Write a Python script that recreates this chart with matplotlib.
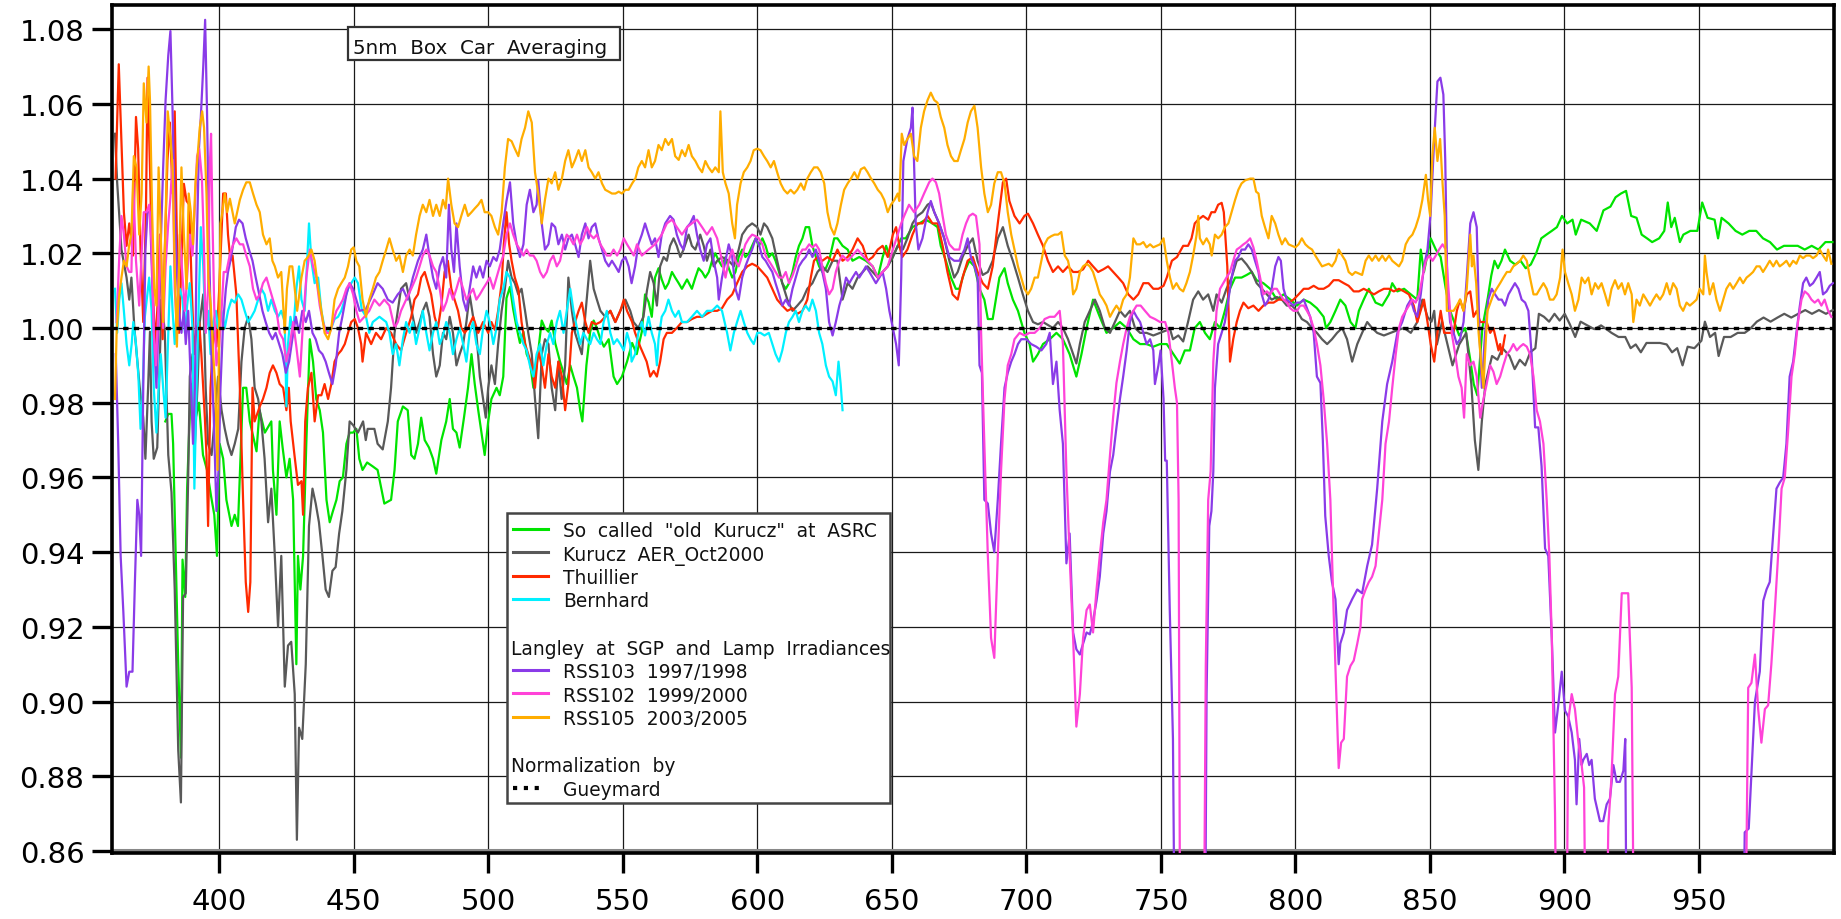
import matplotlib
matplotlib.use("Agg")
import matplotlib.pyplot as plt
import numpy as np
from matplotlib.patches import Rectangle
from matplotlib.lines import Line2D

# ---------------- data (wavelength nm, ratio to Gueymard) ----------------
green_x = [380.0,381.1,382.3,382.9,384.8,385.8,386.4,387.4,388.1,389.5,391.0,392.5,394.0,395.5,397.0,398.2,399.2,400.2,401.5,402.7,404.6,405.8,407.0,408.9,410.1,411.4,413.9,415.0,417.0,419.4,420.0,421.3,422.5,423.6,425.0,426.2,427.5,428.7,429.3,430.2,431.2,432.4,433.7,434.9,436.1,437.4,438.6,439.9,441.1,442.3,443.6,444.8,446.0,447.3,448.5,449.8,451.0,452.1,453.3,455.0,457.0,458.9,461.4,463.9,465.2,466.4,468.3,470.1,471.4,472.6,473.9,475.1,476.4,478.0,479.5,480.7,482.6,484.4,485.7,486.9,488.2,489.4,491.0,492.5,493.8,495.0,496.3,497.5,498.7,500.0,501.2,503.1,504.3,505.6,506.8,508.1,509.3,510.6,511.8,513.1,514.3,515.5,516.8,518.0,519.9,521.1,522.4,523.6,524.9,526.7,528.0,529.2,530.5,531.7,533.0,534.2,535.0,536.5,537.9,539.2,540.4,541.7,543.0,544.8,546.6,547.9,549.7,551.6,553.5,555.2,557.1,558.3,559.6,560.8,562.0,563.3,564.5,565.8,567.0,568.3,569.5,570.8,572.0,573.9,575.7,577.0,578.2,579.5,580.7,582.0,583.2,584.4,585.7,586.9,588.2,589.4,590.7,591.9,593.1,594.4,595.6,596.9,598.1,599.4,600.6,601.9,603.1,604.3,605.6,606.8,608.1,609.3,610.6,611.8,613.1,614.3,615.5,616.8,618.0,619.3,620.5,621.8,623.0,624.2,625.5,626.7,628.6,629.8,631.7,633.6,635.4,637.9,640.4,642.9,644.8,646.6,647.9,649.7,651.6,653.5,655.2,657.7,660.2,662.6,665.1,667.0,668.2,670.1,672.0,673.8,675.1,677.0,678.8,680.7,682.6,684.4,685.7,687.5,690.0,691.9,693.1,695.0,696.9,699.3,701.2,702.5,704.3,706.2,708.7,711.2,713.6,716.1,718.6,720.5,722.4,724.8,727.3,729.8,732.3,734.8,737.3,739.8,742.3,744.7,747.2,749.7,752.2,754.7,757.0,758.9,760.8,762.6,764.5,766.4,768.2,770.1,772.0,773.8,775.7,777.6,780.0,781.9,783.8,785.6,788.1,790.6,793.1,795.6,798.1,800.6,803.1,805.5,808.0,810.5,811.4,813.0,814.9,816.7,818.6,820.5,822.3,823.6,825.4,827.3,829.8,832.3,834.8,836.0,837.9,840.4,842.9,845.3,846.6,847.8,850.3,852.2,854.0,855.9,857.5,860.9,863.1,865.0,866.3,867.6,869.5,871.5,872.8,874.0,875.3,876.6,877.9,879.8,881.7,883.7,885.6,887.5,889.5,891.4,893.3,895.3,897.2,899.1,901.0,903.0,904.2,906.2,909.4,912.0,914.5,917.1,919.0,921.0,922.9,924.8,926.8,928.7,930.7,932.6,935.2,937.1,938.4,939.7,941.0,942.9,944.2,946.8,949.4,951.2,953.2,955.8,957.1,958.4,961.0,963.6,966.1,968.7,971.3,973.8,976.4,979.0,981.6,984.1,986.7,989.3,991.9,994.4,997.0,999.6]
green_y = [0.975,0.977,0.977,0.969,0.910,0.885,0.938,0.928,0.957,0.985,0.975,0.980,0.966,0.962,0.955,0.950,0.939,0.969,0.965,0.954,0.947,0.950,0.947,0.984,0.984,0.975,0.967,0.978,0.972,0.975,0.962,0.950,0.975,0.968,0.960,0.965,0.954,0.910,0.939,0.930,0.939,0.969,0.997,0.991,0.981,0.978,0.972,0.954,0.948,0.951,0.954,0.959,0.960,0.969,0.972,0.972,0.973,0.965,0.962,0.964,0.963,0.962,0.953,0.954,0.962,0.975,0.979,0.978,0.966,0.965,0.969,0.976,0.970,0.968,0.965,0.961,0.970,0.975,0.981,0.973,0.972,0.968,0.976,0.984,0.993,0.985,0.978,0.972,0.966,0.975,0.981,0.984,0.982,0.987,1.008,1.011,1.005,1.000,0.996,0.999,0.993,0.991,0.984,0.990,1.002,1.000,0.999,1.002,0.996,0.991,0.988,0.985,0.990,0.987,0.984,0.978,0.975,0.990,0.999,1.002,1.000,0.997,0.995,0.997,0.987,0.985,0.987,0.991,0.996,0.993,0.999,1.009,1.007,1.003,1.0135,1.016,1.013,1.0105,1.012,1.015,1.0135,1.012,1.0105,1.013,1.0105,1.0135,1.016,1.015,1.0135,1.015,1.018,1.020,1.018,1.0165,1.019,1.016,1.0135,1.015,1.019,1.021,1.019,1.020,1.022,1.024,1.022,1.024,1.022,1.019,1.020,1.018,1.015,1.012,1.0105,1.012,1.015,1.019,1.022,1.024,1.027,1.027,1.022,1.019,1.0165,1.015,1.016,1.018,1.024,1.024,1.022,1.021,1.018,1.019,1.018,1.0165,1.0135,1.019,1.022,1.018,1.021,1.024,1.024,1.027,1.028,1.029,1.028,1.027,1.022,1.018,1.0135,1.0105,1.0105,1.015,1.018,1.0165,1.0105,1.0076,1.0024,1.0024,1.0135,1.016,1.012,1.0076,1.0046,0.9987,0.9957,0.991,0.993,0.9957,0.997,0.9987,0.997,0.993,0.987,0.993,1.000,1.0076,1.003,0.9987,1.000,1.0016,1.000,0.997,0.9957,0.9957,0.995,0.9957,0.9957,0.993,0.9905,0.994,0.994,1.000,1.0016,0.9987,0.997,1.0016,1.000,1.0046,1.0105,1.0135,1.0135,1.0142,1.015,1.0128,1.012,1.0105,1.0076,1.009,1.0076,1.006,1.0076,1.0068,1.0053,1.003,1.000,1.0016,1.0046,1.0076,1.006,1.0016,1.000,1.0046,1.0076,1.0105,1.0068,1.006,1.009,1.012,1.0098,1.0105,1.009,1.0076,1.021,1.015,1.024,1.021,1.019,1.0105,1.0046,0.998,1.000,0.9915,0.985,0.982,1.000,1.008,1.014,1.018,1.016,1.018,1.021,1.018,1.017,1.018,1.016,1.017,1.020,1.024,1.025,1.026,1.027,1.030,1.028,1.029,1.025,1.029,1.028,1.026,1.0315,1.0325,1.035,1.036,1.0367,1.030,1.0295,1.025,1.024,1.023,1.024,1.026,1.0336,1.027,1.0295,1.023,1.025,1.026,1.026,1.0336,1.0295,1.029,1.024,1.0295,1.028,1.026,1.025,1.026,1.026,1.024,1.023,1.021,1.022,1.022,1.022,1.021,1.022,1.021,1.023,1.023]

gray_x = [361.3,362.1,363.7,365.6,366.6,367.4,368.5,370.5,371.8,372.6,373.6,374.3,374.9,375.7,377.0,378.6,379.8,381.1,382.3,383.5,384.8,385.8,386.6,387.6,388.5,389.1,390.1,391.0,392.0,392.8,394.1,395.0,395.9,397.2,398.4,399.6,400.9,402.1,403.3,404.6,405.8,407.1,408.3,409.5,410.8,412.0,413.2,414.5,415.7,416.9,418.2,419.4,420.7,421.9,423.1,424.4,425.6,426.8,428.1,428.9,429.7,430.9,432.2,433.4,434.7,435.9,437.1,438.4,439.6,440.8,442.1,443.3,444.6,445.8,447.3,448.5,449.8,451.6,453.5,454.5,455.2,457.7,458.9,460.8,462.7,463.9,465.2,466.4,467.6,469.5,470.8,472.0,473.2,474.5,475.7,477.0,478.2,479.5,480.7,482.0,483.2,484.4,485.7,486.9,488.2,489.4,490.7,491.9,493.1,494.4,495.6,496.9,498.1,499.1,500.0,501.2,502.5,503.7,505.0,506.2,507.4,508.7,509.9,511.2,512.4,513.7,514.9,516.2,517.4,518.6,519.9,521.1,522.4,523.6,524.9,526.1,527.3,528.6,529.8,531.1,532.3,533.6,534.8,536.3,537.9,539.2,540.4,541.7,543.5,545.4,547.2,549.1,551.0,552.8,554.0,555.8,557.7,559.0,560.2,561.5,562.7,563.9,565.2,566.4,567.6,568.9,570.1,571.4,572.6,574.5,575.7,577.0,578.8,580.1,581.3,582.6,583.8,585.1,586.9,589.4,591.3,593.1,594.4,596.3,598.1,600.0,601.2,602.5,603.7,605.6,607.4,609.3,611.2,613.1,614.9,616.8,618.6,620.5,622.4,624.2,626.1,628.0,629.8,631.7,633.6,635.4,637.3,639.2,641.0,642.9,644.8,646.6,648.5,650.4,652.2,654.1,655.8,657.7,659.5,661.4,663.3,664.5,665.8,667.6,669.5,671.4,673.2,674.5,676.3,678.2,680.1,681.9,683.8,685.7,687.5,689.4,691.3,693.1,695.0,696.9,698.7,700.6,702.5,704.3,706.2,709.9,711.8,713.6,715.5,717.4,718.6,719.9,721.7,723.6,725.5,727.3,729.2,731.1,732.9,734.8,736.7,738.5,740.4,742.3,744.7,747.2,749.7,752.2,753.3,754.5,756.5,758.3,760.1,762.0,763.9,765.7,767.6,769.5,770.7,772.6,774.4,776.3,778.2,780.0,781.9,783.8,785.6,787.5,789.4,791.2,793.1,795.0,796.8,798.7,800.6,802.4,804.3,806.2,808.0,809.9,811.8,813.6,815.5,817.4,819.2,821.1,823.0,824.8,826.7,828.5,830.4,832.9,835.4,837.9,840.4,842.9,845.3,847.2,849.1,850.6,851.6,852.6,854.5,856.5,858.4,860.9,863.5,865.4,866.7,868.0,869.3,870.6,871.9,873.1,875.1,877.0,879.6,881.5,883.4,885.4,887.3,889.2,890.5,892.4,894.3,896.3,898.2,900.1,902.0,904.0,906.0,908.5,911.1,913.6,915.6,917.5,920.1,922.6,924.6,926.5,928.4,930.5,932.9,935.5,938.0,940.0,941.9,943.9,945.8,948.3,950.9,952.2,954.1,956.0,957.3,959.3,961.8,964.4,967.0,968.9,971.5,974.0,976.6,979.2,981.7,984.3,986.9,989.5,992.0,994.6,997.2,999.7]
gray_y = [1.052,1.039,1.021,1.0135,1.0076,1.0135,1.000,0.984,0.976,0.965,0.984,0.999,0.975,0.965,0.968,1.0076,0.999,0.966,0.956,0.930,0.887,0.873,0.928,0.929,0.960,0.987,0.993,0.969,0.985,1.0016,1.009,0.984,0.969,0.966,0.976,0.987,0.978,0.973,0.969,0.966,0.969,0.973,0.991,1.000,1.003,0.997,0.984,0.981,0.975,0.965,0.948,0.957,0.939,0.920,0.939,0.904,0.915,0.916,0.902,0.863,0.893,0.890,0.910,0.947,0.957,0.953,0.948,0.939,0.930,0.928,0.935,0.936,0.945,0.951,0.962,0.975,0.974,0.972,0.975,0.970,0.973,0.973,0.969,0.9675,0.975,0.984,0.9987,1.0046,1.0105,1.012,1.0076,1.003,0.9987,1.0016,1.0046,1.0068,1.003,0.993,0.987,0.990,0.9987,0.997,1.003,0.9987,0.990,0.993,0.9957,1.0016,1.009,1.003,0.9987,0.987,0.981,0.976,0.984,0.990,0.985,0.9957,1.0046,1.0105,1.018,1.0135,1.012,1.009,1.0105,1.0046,0.9987,0.993,0.981,0.9705,0.993,0.997,0.9957,0.984,0.978,0.991,0.981,0.990,1.0135,1.0046,0.9987,0.9957,0.993,1.005,1.018,1.0105,1.0076,1.0046,1.003,1.0046,1.0016,1.0046,1.0076,1.0046,1.0016,1.000,1.003,1.010,1.015,1.012,1.006,1.0165,1.019,1.018,1.022,1.024,1.022,1.019,1.021,1.025,1.022,1.021,1.025,1.022,1.018,1.021,1.0165,1.018,1.019,1.018,1.0165,1.021,1.025,1.027,1.028,1.027,1.025,1.028,1.027,1.024,1.018,1.012,1.0076,1.0046,1.006,1.0076,1.0105,1.012,1.015,1.0165,1.015,1.018,1.018,1.0076,1.012,1.0105,1.0135,1.015,1.0165,1.015,1.0135,1.015,1.0165,1.019,1.022,1.021,1.024,1.028,1.030,1.031,1.033,1.0335,1.031,1.028,1.024,1.018,1.0135,1.015,1.019,1.022,1.024,1.018,1.0142,1.015,1.018,1.024,1.027,1.022,1.018,1.0135,1.009,1.0046,1.0016,1.001,1.0016,1.000,1.0016,1.000,0.997,0.993,0.9905,0.9957,1.0016,1.0046,1.0076,1.0046,1.000,0.9987,1.0016,1.0046,1.003,1.0046,1.000,0.9987,0.9987,0.998,0.9987,0.9994,1.000,0.997,0.998,0.9964,1.0016,1.0076,1.0098,1.0076,1.009,1.0046,1.009,1.0068,1.0105,1.0135,1.018,1.0186,1.017,1.015,1.012,1.0105,1.009,1.0076,1.0083,1.0076,1.006,1.006,1.0046,1.0024,1.0016,1.000,0.9987,0.997,0.9957,0.997,0.9987,1.000,0.997,0.991,0.9957,0.9987,1.0016,1.000,0.9987,0.998,0.9987,0.9994,1.000,0.9987,1.0016,1.0076,1.003,1.0017,1.0046,0.9956,1.0017,0.9957,0.990,0.9956,0.9987,0.985,0.970,0.962,0.975,0.985,0.989,0.9925,0.9915,0.9946,0.9925,0.989,0.9915,0.990,0.9935,0.9946,1.0038,1.003,1.0017,1.0038,1.002,1.0038,1.001,0.9976,1.0017,1.0007,0.9997,1.0007,0.9997,0.9987,0.9976,0.9976,0.9946,0.9956,0.9935,0.996,0.996,0.996,0.9956,0.9935,0.9946,0.990,0.995,0.9946,0.9966,1.0017,0.9976,0.9987,0.9925,0.9976,0.9976,0.9987,0.9987,0.9997,1.0017,1.0028,1.0017,1.0028,1.0038,1.0028,1.0038,1.0048,1.0038,1.0048,1.0038,1.0048]

red_x = [361.5,362.7,363.7,364.6,365.6,366.6,368.0,369.1,369.9,370.8,371.8,372.8,373.4,374.3,375.1,376.1,377.0,378.0,379.0,379.8,380.8,381.7,382.7,383.5,384.4,385.1,386.0,386.9,387.9,388.9,389.7,390.7,391.6,392.6,393.4,394.7,395.3,395.9,396.8,398.0,399.0,400.0,401.5,402.5,403.3,404.2,405.0,406.4,407.7,408.9,409.9,410.8,411.6,412.4,413.2,415.1,416.3,417.6,418.8,420.0,421.3,422.5,423.8,425.0,425.9,426.6,428.0,429.3,430.6,431.2,432.0,433.0,434.3,435.5,436.8,438.0,439.2,440.5,441.7,442.9,444.2,445.4,446.7,447.9,449.1,450.4,451.6,452.8,453.3,454.6,456.5,458.3,460.2,462.1,463.9,465.8,467.6,469.5,471.4,472.6,473.9,475.1,476.4,477.6,478.8,480.1,481.3,482.6,483.8,485.0,486.3,487.5,488.8,490.0,491.3,492.5,494.4,496.3,498.1,500.0,501.2,502.5,503.7,505.0,505.8,506.8,507.8,508.7,509.9,511.2,512.4,513.7,514.9,516.2,517.4,518.6,519.9,521.1,522.4,523.6,524.9,526.1,527.4,528.6,529.8,531.1,532.3,533.6,534.8,536.1,537.3,538.5,540.0,541.7,543.5,545.4,547.3,549.1,550.4,551.6,553.5,554.6,556.5,558.9,560.2,561.5,562.7,563.9,565.2,566.4,568.3,570.1,572.0,573.9,575.7,577.6,579.5,581.3,583.2,585.1,586.9,588.8,590.7,592.5,594.4,596.3,598.1,600.0,601.9,603.7,605.6,607.4,609.3,611.2,613.1,614.9,616.8,618.6,619.9,621.1,622.4,624.2,626.1,628.0,629.8,631.7,633.6,635.4,637.3,639.2,641.0,642.9,644.8,646.6,648.5,650.4,651.6,652.8,653.9,655.8,657.7,659.5,661.4,663.3,665.1,667.0,668.9,670.7,672.6,674.5,676.3,678.2,680.1,681.9,683.8,685.7,687.5,689.4,691.3,692.5,693.7,695.6,697.5,699.3,700.6,702.5,704.3,706.2,708.0,709.9,711.8,713.6,715.5,717.4,719.2,721.1,723.0,724.8,726.7,728.6,730.4,732.3,734.2,736.0,737.9,739.8,741.6,743.5,745.4,747.2,749.1,751.0,752.2,754.1,756.0,758.3,760.1,761.4,762.6,763.9,765.7,767.6,768.8,770.1,771.3,772.6,773.4,774.7,775.7,776.9,778.2,779.4,780.7,782.5,784.4,786.3,788.1,790.0,791.9,793.7,795.6,797.5,799.3,801.2,803.1,804.9,806.8,808.6,810.5,812.4,814.2,816.1,818.0,819.8,821.7,823.6,825.4,827.3,829.2,831.0,832.9,834.8,836.6,838.5,840.4,842.2,844.0,845.3,847.8,849.1,850.3,851.6,852.8,854.0,855.3,856.3,858.8,860.0,861.2,862.5,863.7,865.0,866.2,867.4,868.7,871.1,872.4,873.6,875.5,876.1,876.7,877.9]
red_y = [1.040,1.0706,1.050,1.031,1.022,1.028,1.0194,1.0565,1.048,1.021,1.0016,1.031,1.067,1.043,1.0165,0.9957,1.0046,1.025,0.997,1.021,1.045,1.055,1.036,1.058,1.0194,0.9987,1.018,1.0386,1.034,1.033,1.0135,0.993,1.000,1.0016,0.993,0.976,0.966,0.947,0.984,1.000,0.995,1.010,1.036,1.036,1.025,1.018,1.0194,1.009,0.984,0.954,0.932,0.924,0.932,0.984,0.975,0.979,0.981,0.984,0.988,0.990,0.988,0.985,0.984,0.978,0.984,0.975,0.966,0.958,0.959,0.950,0.975,0.984,0.988,0.975,0.982,0.982,0.985,0.981,0.985,0.991,0.993,0.994,0.9957,0.9987,1.0016,1.0024,1.000,0.9957,0.991,0.9987,0.9957,0.9987,0.997,1.000,0.9987,0.9957,0.994,0.9987,1.003,1.0076,1.009,1.0135,1.015,1.012,1.009,1.003,1.000,1.006,1.015,1.018,1.0105,1.0076,1.0046,1.000,0.9987,1.000,1.003,0.9987,1.0016,0.9987,1.0016,0.9995,1.0046,1.012,1.0224,1.031,1.0224,1.018,1.0135,1.0105,1.0016,0.9957,0.993,0.990,0.984,0.994,0.990,0.984,0.993,0.987,0.984,0.991,0.987,0.978,0.985,0.9987,1.0016,1.0046,1.0068,1.0016,0.9987,1.0016,1.001,1.0016,1.003,1.0046,1.0016,1.0046,1.0076,1.0046,1.0016,0.9987,0.995,0.991,0.987,0.9885,0.987,0.991,0.997,0.9987,0.9987,1.000,1.0016,1.0016,1.0024,1.003,1.003,1.0038,1.0046,1.0046,1.0053,1.0076,1.009,1.012,1.015,1.0165,1.0172,1.0165,1.015,1.0135,1.0105,1.0076,1.006,1.0046,1.0053,1.0038,1.0046,1.0076,1.0135,1.018,1.019,1.018,1.019,1.018,1.021,1.018,1.019,1.021,1.024,1.022,1.018,1.019,1.021,1.022,1.019,1.025,1.027,1.022,1.019,1.021,1.025,1.028,1.028,1.030,1.028,1.028,1.022,1.015,1.009,1.0076,1.0135,1.018,1.019,1.015,1.012,1.0105,1.0165,1.028,1.039,1.040,1.034,1.030,1.028,1.030,1.0306,1.028,1.025,1.022,1.018,1.015,1.0165,1.015,1.0165,1.015,1.015,1.0157,1.018,1.0165,1.015,1.0157,1.0165,1.015,1.0135,1.012,1.009,1.0076,1.009,1.012,1.012,1.0105,1.0105,1.0113,1.0135,1.018,1.019,1.022,1.022,1.024,1.028,1.029,1.030,1.029,1.031,1.031,1.033,1.0335,1.031,1.0165,0.991,0.997,1.0016,1.0046,1.0068,1.0053,1.006,1.0046,1.006,1.0068,1.0068,1.0076,1.0076,1.0068,1.0076,1.009,1.0105,1.0105,1.0113,1.0105,1.0105,1.0113,1.0128,1.0128,1.012,1.0113,1.0098,1.0098,1.0105,1.0098,1.009,1.0098,1.0105,1.0105,1.0098,1.0105,1.0098,1.009,1.006,1.0016,1.0076,1.0016,0.9957,0.991,0.9987,1.0046,0.9987,0.9987,0.9987,1.0046,1.0076,1.0046,1.009,1.0098,1.003,1.0046,1.0016,1.0016,0.9987,1.000,0.994,0.9957,0.993,0.998]

cyan_x = [361.3,362.1,362.9,363.7,364.6,365.6,366.6,367.5,368.1,369.1,370.0,370.8,371.5,372.4,373.3,374.0,374.9,375.7,376.7,377.6,378.3,379.2,380.1,381.1,381.9,382.7,383.5,384.4,385.4,386.4,387.3,388.1,389.1,390.1,390.8,391.6,392.5,393.2,394.1,395.0,395.9,396.8,397.8,398.8,399.6,400.9,402.1,403.3,404.6,405.8,407.1,408.3,409.5,410.8,412.0,413.2,414.5,415.7,416.9,418.2,419.4,420.7,421.9,423.1,424.4,425.0,425.6,426.5,427.5,428.7,429.7,430.6,431.8,432.7,433.4,434.3,435.5,436.8,438.0,439.2,440.5,441.7,442.9,444.2,445.4,446.7,447.9,449.1,450.4,451.6,453.0,454.6,455.8,457.1,459.6,462.1,463.3,464.5,465.8,467.0,468.3,469.5,470.8,472.0,473.2,474.5,475.7,477.0,478.2,479.5,480.7,482.0,483.2,484.4,485.7,486.9,488.2,489.4,490.7,491.9,493.1,494.4,495.6,496.9,498.1,499.4,500.6,501.9,503.1,504.3,505.6,506.8,508.1,509.3,510.6,511.8,513.1,514.3,515.5,516.8,518.0,519.3,520.5,521.8,523.0,524.2,525.5,526.7,528.0,529.2,530.5,531.7,533.0,534.2,535.4,536.7,537.9,539.2,540.4,541.7,542.9,544.1,545.4,546.6,547.9,549.1,550.4,551.6,552.8,553.3,554.6,555.8,557.1,558.3,559.6,560.8,562.0,562.7,563.3,564.5,565.8,567.0,568.3,569.5,570.8,572.0,573.9,575.7,577.6,579.5,581.3,583.2,585.1,586.9,588.8,590.0,591.3,592.5,593.8,595.0,596.3,597.5,598.7,600.0,601.2,602.7,604.3,605.6,606.8,608.1,609.3,610.6,611.8,613.1,614.3,615.5,616.8,618.0,619.3,620.5,621.8,623.0,624.2,625.5,626.7,628.0,629.2,630.2,631.0,631.7]
cyan_y = [1.0105,0.9987,1.0076,1.012,1.0046,0.9957,0.990,0.9957,1.0016,0.9957,0.987,0.973,0.981,1.003,1.009,1.0135,1.0046,0.984,0.972,0.985,0.993,0.984,0.976,0.9987,1.0165,1.0046,0.9957,1.0076,1.0105,1.0076,0.9987,1.006,1.012,1.000,0.957,0.984,1.009,1.027,1.0165,0.9987,1.0046,0.993,1.0016,1.0046,1.000,1.0046,1.000,1.0046,1.0076,1.0068,1.009,1.0076,1.0046,1.0016,1.003,1.0046,1.0076,1.0105,1.009,1.0046,1.0076,1.0046,1.003,1.0046,1.0016,0.979,0.9957,1.003,0.9987,1.0105,1.0165,1.0076,1.0046,1.018,1.028,1.018,1.012,1.0135,1.0046,1.000,0.9987,1.000,1.0024,1.003,1.0046,1.0076,1.0105,1.012,1.0135,1.012,1.005,1.003,0.9987,1.0016,1.003,1.0016,0.9987,0.993,0.9957,0.990,0.997,1.0016,0.9987,1.0016,0.9957,1.000,1.0046,0.9987,0.994,0.9987,1.0016,0.9957,0.998,1.0016,0.9987,0.993,0.997,1.000,0.9957,0.991,0.9987,1.0016,0.9957,0.993,1.000,1.0046,1.0016,0.9957,1.000,1.0076,1.0105,1.015,1.0135,1.0076,1.0016,0.9987,0.9957,0.994,0.990,0.987,0.993,0.9957,0.990,0.9957,0.9987,0.9957,1.0016,1.0046,0.9987,1.0046,1.0105,1.0046,1.000,0.9957,0.9987,0.997,0.9957,0.9987,0.997,0.9957,1.0016,1.0046,0.9987,0.9957,0.997,0.9957,0.994,0.9987,0.9957,0.991,0.993,0.9987,1.0016,0.998,1.003,0.9987,0.9957,0.990,0.997,1.003,1.0046,1.0076,1.0046,1.003,1.0046,1.0016,1.0016,1.003,1.0046,1.003,1.0046,1.0046,1.006,1.0046,0.9987,0.994,0.9987,1.0016,1.0046,1.0016,0.9987,0.997,0.9957,0.9987,0.9987,0.998,0.9987,0.9957,0.993,0.991,0.994,0.9987,1.0016,1.003,1.0046,1.0016,1.0046,1.006,1.0046,1.0076,1.0046,0.9987,0.9957,0.990,0.987,0.9857,0.982,0.991,0.985,0.978]

purple_x = [361.6,362.5,363.4,364.4,365.6,366.6,367.8,368.7,369.6,370.3,371.0,371.8,372.6,373.4,374.3,375.1,375.9,376.7,377.6,378.3,379.2,380.1,381.1,381.9,382.7,383.5,384.4,385.1,386.0,386.9,387.6,388.5,389.4,390.3,391.0,391.6,392.5,393.2,394.1,394.8,395.5,396.3,397.2,398.0,399.0,399.8,400.5,401.5,402.5,403.3,404.2,405.2,406.2,407.4,408.7,409.9,411.1,412.4,413.6,414.9,416.1,417.3,418.6,419.8,421.0,422.3,423.5,424.8,426.0,427.2,428.5,429.7,430.9,432.2,433.4,434.7,435.9,437.1,438.4,439.6,440.8,442.1,443.3,444.6,445.8,447.3,448.5,449.8,451.0,452.2,454.5,457.1,458.9,460.8,462.7,464.5,466.4,468.3,470.1,472.0,473.9,475.7,477.0,478.2,479.5,480.7,482.0,483.2,484.4,485.4,486.3,487.3,488.2,489.4,490.7,491.9,493.1,494.4,495.6,496.9,498.1,499.4,500.6,501.9,503.1,504.3,505.6,506.8,508.1,509.3,510.6,511.8,513.1,514.3,515.5,516.8,518.0,518.6,519.9,521.1,522.4,523.6,524.9,526.1,527.4,528.6,529.8,531.1,532.3,533.6,534.8,536.1,537.3,538.5,539.8,541.0,542.3,543.5,544.8,546.0,547.3,548.5,549.7,551.0,552.2,553.3,554.6,555.8,557.1,558.3,559.6,560.8,562.0,563.3,564.5,565.8,567.6,568.9,570.1,571.4,572.6,573.9,575.1,576.4,577.6,578.8,580.1,581.3,582.6,583.8,585.1,585.7,586.9,588.2,589.4,590.7,591.9,593.1,594.4,595.6,596.9,598.1,599.4,600.6,601.9,603.1,604.3,605.6,606.8,608.1,609.3,610.6,611.8,613.1,614.3,615.5,616.8,618.0,619.3,620.5,621.8,623.0,624.2,625.5,626.7,628.0,629.2,630.5,631.7,633.0,634.2,635.4,636.7,637.9,639.2,640.4,641.7,642.9,644.1,645.4,646.6,647.9,649.1,650.4,651.6,652.6,653.5,654.3,655.8,657.1,657.7,658.3,658.9,659.9,661.4,663.3,664.5,665.8,667.6,669.5,671.4,673.2,675.1,677.0,678.2,679.4,680.7,681.9,682.6,683.5,684.4,685.7,686.9,688.1,689.4,690.6,691.9,693.1,694.4,695.6,696.9,698.1,700.0,701.8,703.7,705.6,707.4,708.7,709.9,711.2,712.4,713.6,714.9,716.1,717.4,718.6,719.9,721.1,722.4,723.6,724.8,726.1,727.3,728.6,729.8,731.1,732.3,733.5,734.8,736.0,737.3,738.5,739.8,741.0,742.3,743.5,744.7,746.0,747.2,747.8,749.1,749.9,751.0,751.6,752.2,753.3,754.5,755.5,766.2,767.0,768.0,768.8,769.5,770.1,771.3,772.6,773.8,775.1,776.3,777.6,778.8,780.0,781.3,782.5,783.8,785.0,786.3,787.5,788.7,790.0,791.2,792.5,793.7,794.6,795.6,796.8,798.1,799.3,800.6,801.8,803.1,804.3,805.5,806.8,808.0,809.3,810.2,811.1,812.4,813.6,814.9,816.1,816.7,818.0,819.2,821.1,823.0,824.8,826.7,828.5,830.4,832.3,834.1,836.0,837.9,839.7,841.6,842.9,844.1,845.3,846.6,847.8,849.1,850.3,851.6,852.8,853.9,855.0,855.7,856.5,857.5,858.8,860.0,861.2,862.5,863.7,865.0,866.2,867.4,868.4,869.3,870.5,871.7,873.0,874.2,875.5,876.7,877.9,879.2,880.4,881.6,882.9,884.1,885.4,886.6,887.8,889.1,890.3,891.5,892.8,894.0,895.3,896.5,897.7,899.0,900.2,901.4,902.7,903.9,904.5,905.5,906.4,907.0,908.3,909.2,910.1,911.3,913.2,914.4,915.7,916.9,918.2,919.4,920.6,921.9,922.6,923.4,966.0,967.0,968.5,970.8,972.6,973.9,975.1,976.3,977.6,978.8,980.0,981.3,982.5,983.7,985.0,986.2,987.5,988.7,989.9,991.2,992.4,993.7,994.9,996.1,997.4,998.6,999.8]
purple_y = [0.993,0.969,0.939,0.924,0.904,0.908,0.908,0.932,0.954,0.950,0.939,0.984,1.021,1.031,1.031,1.0135,0.9957,0.984,1.0046,1.022,1.043,1.061,1.073,1.0795,1.058,1.031,1.0135,1.0046,0.9987,1.0046,0.9957,1.0046,0.987,0.969,0.984,1.0194,1.048,1.0565,1.070,1.0825,1.058,1.021,0.991,0.976,0.951,0.962,0.984,1.0016,1.0105,1.015,1.018,1.0224,1.027,1.029,1.028,1.024,1.021,1.018,1.0135,1.009,1.0046,1.0016,0.9987,0.997,0.9987,0.9957,0.993,0.988,0.991,0.997,1.003,0.9987,1.0046,1.0016,1.0046,0.9987,0.997,0.994,0.993,0.991,0.988,0.985,0.990,0.9987,1.003,1.009,1.012,1.0105,1.0076,1.0046,1.005,1.009,1.012,1.0105,1.0076,1.0068,1.009,1.0105,1.0076,1.0135,1.018,1.021,1.025,1.019,1.0135,1.0105,1.0165,1.019,1.0135,1.033,1.021,1.015,1.028,1.0165,1.0076,1.0046,1.0105,1.0165,1.0135,1.0165,1.0135,1.018,1.0165,1.019,1.018,1.021,1.028,1.034,1.039,1.028,1.0224,1.019,1.0224,1.033,1.037,1.031,1.033,1.0395,1.028,1.021,1.0224,1.028,1.027,1.0224,1.025,1.021,1.024,1.025,1.0224,1.019,1.025,1.028,1.024,1.027,1.028,1.024,1.021,1.018,1.0165,1.018,1.0165,1.015,1.018,1.019,1.0165,1.012,1.0165,1.0224,1.025,1.028,1.025,1.0224,1.024,1.019,1.025,1.028,1.030,1.029,1.025,1.0224,1.021,1.027,1.028,1.030,1.025,1.021,1.018,1.0224,1.024,1.018,1.0135,1.0076,1.0135,1.018,1.0224,1.019,1.0105,1.0076,1.0135,1.0165,1.019,1.021,1.024,1.0224,1.019,1.018,1.0165,1.015,1.012,1.009,1.006,1.0076,1.006,1.0105,1.0135,1.0165,1.018,1.019,1.021,1.019,1.021,1.018,1.015,1.0105,1.0016,0.998,1.0016,1.006,1.009,1.0135,1.012,1.0135,1.015,1.0135,1.015,1.0165,1.015,1.0135,1.012,1.0135,1.015,1.0105,1.0046,1.000,0.9957,0.990,1.0135,1.0447,1.0506,1.0536,1.059,1.043,1.028,1.021,1.024,1.031,1.034,1.031,1.028,1.024,1.019,1.018,1.018,1.021,1.024,1.019,1.0165,1.0135,0.990,0.988,0.954,0.953,0.945,0.940,0.954,0.969,0.984,0.988,0.991,0.993,0.9957,0.997,0.997,0.9957,0.995,0.994,0.9957,0.9987,0.985,0.991,0.978,0.969,0.937,0.945,0.9185,0.914,0.9126,0.9155,0.9185,0.918,0.9215,0.927,0.9334,0.945,0.951,0.9616,0.966,0.9734,0.981,0.987,0.994,1.0016,1.0046,1.003,1.0016,0.9987,0.9957,0.997,0.994,0.985,0.990,0.994,0.981,0.9645,0.9645,0.925,0.890,0.80,0.80,0.902,0.947,0.951,0.9616,0.984,0.9957,0.9987,1.0016,1.0076,1.0135,1.018,1.019,1.021,1.021,1.0224,1.021,1.018,1.015,1.009,1.006,1.0076,1.0105,1.0165,1.019,1.018,1.0105,1.0076,1.0068,1.006,1.0068,1.0068,1.0076,1.0053,1.003,0.9987,0.987,0.9853,0.970,0.9497,0.939,0.932,0.9274,0.910,0.9155,0.9185,0.9245,0.9274,0.930,0.929,0.9363,0.942,0.957,0.975,0.985,0.991,0.9987,1.0016,1.006,1.0076,1.0046,1.003,1.009,1.0165,1.021,1.031,1.0506,1.066,1.067,1.0625,1.045,1.0105,1.0016,0.9987,0.9957,0.997,1.0016,1.0135,1.028,1.031,1.027,0.9987,0.984,0.9987,1.0076,1.0105,1.009,1.0076,1.0076,1.006,1.009,1.0105,1.012,1.0105,1.0076,1.0068,1.0046,0.993,0.9734,0.9734,0.963,0.941,0.939,0.917,0.8917,0.899,0.908,0.8976,0.896,0.8917,0.8844,0.8725,0.890,0.883,0.8844,0.886,0.883,0.8844,0.874,0.868,0.868,0.8725,0.874,0.883,0.8785,0.8785,0.8815,0.890,0.80,0.80,0.865,0.866,0.900,0.908,0.927,0.930,0.932,0.945,0.957,0.9586,0.960,0.969,0.987,0.991,0.9987,1.006,1.012,1.0135,1.0113,1.012,1.0135,1.015,1.009,1.0098,1.0113,1.012]

pink_x = [361.9,362.9,363.7,364.6,365.6,366.6,367.4,368.1,369.1,370.3,371.2,372.0,373.0,374.0,374.9,375.7,376.5,377.4,378.2,379.2,380.1,381.1,381.9,382.7,383.5,384.4,385.4,386.4,387.3,388.1,389.1,390.1,391.0,391.8,392.6,393.6,394.3,395.0,395.9,396.5,397.0,397.5,398.2,399.0,400.0,400.9,401.7,402.7,403.9,405.2,406.4,407.7,408.9,410.1,411.4,412.6,413.9,415.1,416.3,417.6,418.8,420.0,421.3,422.5,423.8,425.0,426.2,427.5,428.7,430.0,431.2,432.4,433.7,434.9,436.1,437.4,438.6,439.9,441.1,442.3,443.6,444.8,446.0,447.3,448.5,449.8,451.0,452.2,454.0,455.8,457.7,459.6,461.4,463.3,465.2,466.4,467.6,469.5,471.4,473.2,474.5,475.7,477.0,478.2,479.5,480.7,482.0,483.2,484.5,485.7,486.9,488.2,489.4,490.7,491.9,493.1,494.4,495.6,496.9,498.1,499.4,500.6,501.9,503.1,504.3,505.6,506.8,508.1,509.3,510.6,511.8,513.1,514.3,515.5,516.8,518.0,519.3,520.5,521.8,523.0,524.2,525.5,526.7,528.0,529.2,530.5,531.7,533.0,534.2,535.4,536.7,537.9,539.2,540.4,541.7,542.9,544.1,545.4,546.6,547.9,549.1,550.4,551.6,552.8,554.1,555.3,557.1,559.6,562.0,564.5,566.4,568.3,570.1,572.0,573.9,575.7,577.6,579.5,581.3,583.2,585.1,586.9,588.2,589.4,590.7,591.9,593.1,594.4,595.6,596.9,598.1,599.4,600.6,601.9,603.1,604.3,605.6,606.8,608.1,609.5,610.6,611.8,613.1,614.3,615.5,616.8,618.0,619.3,620.5,621.8,623.0,624.2,625.5,626.7,628.0,629.2,630.5,631.7,633.6,635.4,637.3,639.2,641.0,642.9,644.8,646.6,648.5,650.4,652.2,653.5,654.6,656.4,658.3,660.2,662.0,663.9,665.1,666.4,667.6,668.9,670.1,671.4,673.2,675.1,676.3,677.6,678.8,680.1,681.3,682.6,683.2,684.4,685.7,686.9,688.1,689.4,690.6,691.9,693.1,694.4,695.6,697.5,699.3,701.2,703.1,705.0,706.8,708.7,710.5,712.4,713.6,714.9,716.1,717.4,718.6,719.9,721.1,722.4,723.6,724.8,726.1,727.3,728.6,729.8,731.1,732.3,733.5,734.8,736.0,737.3,738.5,739.8,741.0,742.5,744.1,746.0,747.8,749.7,751.6,752.8,754.1,755.2,756.0,756.6,757.3,765.7,766.7,767.6,768.5,769.5,770.7,772.0,773.2,774.4,775.7,776.9,778.2,779.4,780.7,781.9,783.2,784.4,785.6,786.9,788.1,789.4,790.6,791.9,793.1,794.3,795.6,796.8,798.1,799.3,800.6,801.8,803.1,804.3,805.5,806.8,808.0,809.3,810.5,811.8,813.0,814.2,815.5,816.1,817.0,818.0,819.2,820.5,821.7,823.0,824.2,824.8,826.1,827.3,828.5,829.8,831.0,832.3,833.5,834.8,836.0,837.3,838.5,839.7,841.0,842.2,843.5,844.7,846.0,847.2,848.5,849.7,851.0,852.2,853.4,854.7,855.9,856.9,858.1,859.4,860.6,861.8,862.7,863.7,865.0,866.2,867.4,868.7,869.9,871.1,872.4,873.6,874.8,876.1,877.3,878.6,879.8,881.0,882.3,883.5,884.7,886.0,887.2,888.5,889.7,890.9,892.2,893.4,894.4,895.3,896.5,897.5,900.5,901.4,902.7,903.9,905.2,906.4,907.3,908.3,915.1,916.3,917.5,918.8,920.0,921.3,922.5,923.7,925.0,926.2,966.8,968.3,969.5,970.8,972.0,973.2,974.5,975.7,976.9,978.2,979.4,980.7,981.9,983.1,984.4,985.6,986.8,988.1,989.3,990.6,991.8,993.0,994.3,995.5,996.7,998.0,999.2]
pink_y = [1.0016,1.0194,1.030,1.025,1.0165,1.015,1.015,1.039,1.018,1.006,1.020,1.031,1.031,1.033,1.0224,0.9987,0.990,1.0046,1.025,1.000,1.0165,1.028,1.035,1.045,1.0105,0.9987,1.025,1.0135,1.0046,1.0135,1.025,1.0194,1.033,1.046,1.048,1.040,1.024,0.9987,1.0105,1.043,1.052,1.030,1.005,0.990,0.995,1.0046,1.015,1.015,1.0194,1.0224,1.024,1.0224,1.0224,1.0194,1.0165,1.0105,1.0076,1.009,1.012,1.0135,1.0105,1.0076,1.0046,0.9987,0.997,0.991,0.995,1.0016,0.995,0.987,1.0016,1.0135,1.021,1.0165,1.0135,1.006,1.0016,0.9987,0.9987,1.0016,1.0046,1.006,1.0076,1.0105,1.012,1.009,1.0046,1.0016,1.003,1.0046,1.0076,1.006,1.0076,1.006,1.000,1.0016,1.0046,1.0076,1.0105,1.0135,1.0165,1.0194,1.021,1.0194,1.0165,1.015,1.0105,1.0046,1.007,1.0105,1.0076,1.0105,1.0135,1.0105,1.0076,1.009,1.0105,1.0076,1.009,1.0105,1.012,1.0135,1.0105,1.0135,1.0165,1.0194,1.025,1.028,1.025,1.0224,1.021,1.0194,1.021,1.0194,1.0194,1.018,1.015,1.0135,1.015,1.018,1.0194,1.0165,1.018,1.0224,1.025,1.024,1.0224,1.025,1.0224,1.024,1.027,1.025,1.024,1.025,1.0224,1.021,1.0194,1.0194,1.021,1.0194,1.021,1.024,1.0224,1.021,1.0194,1.0224,1.0194,1.021,1.0224,1.025,1.028,1.029,1.027,1.025,1.027,1.028,1.029,1.027,1.025,1.027,1.024,1.018,1.0135,1.018,1.021,1.018,1.0165,1.0194,1.0224,1.024,1.025,1.0246,1.024,1.0224,1.0194,1.018,1.0165,1.015,1.0135,1.0135,1.015,1.012,1.014,1.0165,1.0194,1.021,1.021,1.0224,1.0216,1.0224,1.021,1.0165,1.012,1.009,1.0105,1.015,1.018,1.0194,1.018,1.0194,1.021,1.0194,1.018,1.0165,1.0135,1.015,1.0165,1.021,1.025,1.028,1.030,1.033,1.031,1.033,1.036,1.039,1.040,1.039,1.036,1.030,1.025,1.0224,1.021,1.021,1.025,1.028,1.030,1.0306,1.030,1.0224,0.9987,0.969,0.939,0.917,0.9117,0.939,0.9616,0.981,0.990,0.993,0.997,0.9987,0.998,0.9987,0.9987,1.000,1.0024,1.003,1.003,1.0046,0.9957,0.9616,0.939,0.917,0.8933,0.902,0.917,0.9245,0.926,0.9185,0.930,0.939,0.948,0.954,0.966,0.9764,0.9853,0.991,0.9957,1.000,1.003,1.0046,1.006,1.006,1.0046,1.003,1.0024,1.0016,1.0016,0.9987,0.991,0.984,0.980,0.954,0.80,0.80,0.9096,0.954,0.9616,0.991,1.0046,1.0105,1.012,1.0135,1.015,1.018,1.021,1.0216,1.0224,1.023,1.024,1.0216,1.018,1.0135,1.009,1.0098,1.009,1.0105,1.0105,1.009,1.0076,1.0068,1.0053,1.0046,1.0046,1.006,1.006,1.0046,1.003,1.000,0.9957,0.990,0.981,0.969,0.954,0.9245,0.895,0.8822,0.889,0.890,0.9067,0.9096,0.911,0.9155,0.920,0.9274,0.930,0.932,0.9334,0.9363,0.945,0.954,0.969,0.975,0.984,0.993,1.000,1.003,1.0046,1.006,1.0076,1.0068,1.009,1.0135,1.018,1.0194,1.018,1.0194,1.021,1.0224,1.021,1.0105,0.9987,0.993,0.987,0.984,0.976,0.993,0.990,0.991,0.987,0.976,0.981,0.985,0.990,0.9883,0.985,0.987,0.990,0.993,0.994,0.9957,0.994,0.995,0.9957,0.995,0.993,0.987,0.978,0.975,0.969,0.954,0.939,0.917,0.870,0.80,0.80,0.8947,0.902,0.898,0.889,0.883,0.877,0.80,0.80,0.8666,0.880,0.902,0.9067,0.929,0.929,0.929,0.9037,0.80,0.80,0.9037,0.905,0.9126,0.898,0.889,0.898,0.899,0.910,0.9245,0.939,0.957,0.960,0.972,0.987,0.993,1.0016,1.0076,1.0098,1.009,1.0076,1.0068,1.0076,1.006,1.0076,1.0046,1.003]

orange_x = [361.3,361.9,362.7,363.7,364.6,365.6,366.6,367.4,368.3,369.3,370.3,371.2,372.0,373.0,373.8,374.3,375.1,375.9,376.7,377.5,378.2,379.2,380.1,380.9,381.9,382.7,383.5,384.3,385.0,386.0,386.9,387.9,388.7,389.5,390.3,391.2,392.0,392.8,393.7,394.4,395.3,396.0,396.9,397.8,398.6,399.4,400.5,401.2,402.1,403.0,404.0,405.8,407.7,408.9,410.1,411.4,412.6,413.9,415.1,416.3,417.6,418.8,419.8,420.7,421.9,423.1,424.4,425.2,426.2,427.2,429.0,430.6,431.8,433.0,434.3,435.5,436.8,438.0,439.2,440.5,441.7,442.9,444.2,445.4,446.7,447.9,449.1,450.0,451.0,452.1,453.3,454.6,455.8,457.1,458.3,459.6,460.8,462.1,463.3,464.5,465.8,467.0,468.3,469.5,470.8,472.0,473.2,474.5,475.7,477.0,478.2,479.5,480.7,482.0,483.2,484.2,485.1,486.3,487.5,488.8,490.0,491.3,492.5,493.8,495.0,496.3,497.5,498.7,500.0,501.2,502.5,503.7,505.0,506.2,507.4,508.7,509.9,511.2,512.4,513.7,514.9,516.2,517.4,518.6,519.9,521.1,522.4,523.6,524.9,526.1,527.4,528.6,529.8,531.1,532.3,533.6,534.8,536.1,537.3,538.5,539.8,541.0,542.3,543.5,544.8,546.0,547.3,548.5,549.7,551.0,552.2,553.5,554.7,555.8,557.1,558.3,559.6,560.8,562.0,563.3,564.5,565.8,567.0,568.3,569.5,570.8,572.0,573.2,574.5,575.7,577.0,578.2,579.5,580.7,581.9,583.2,584.4,585.7,586.3,587.2,588.2,589.4,590.7,591.7,592.5,593.8,595.0,596.3,597.5,598.7,600.0,601.2,602.5,603.7,605.0,606.2,607.4,608.7,609.9,611.2,612.4,613.7,614.9,616.2,617.4,618.6,619.9,621.1,622.4,623.6,624.9,626.1,627.3,628.6,629.8,631.1,632.3,633.6,634.8,636.1,637.3,638.5,639.8,641.0,642.3,643.5,644.8,646.0,647.2,648.5,649.7,651.0,652.2,652.8,653.7,654.6,655.8,657.1,658.3,659.5,660.8,662.0,663.3,664.5,665.8,667.0,668.2,669.5,670.7,672.0,673.2,674.5,675.7,677.0,678.2,679.4,680.7,681.9,683.2,684.4,685.7,686.9,688.1,689.4,690.6,691.9,693.1,694.4,695.6,696.9,698.1,699.3,700.6,701.8,703.1,704.3,705.6,706.8,708.0,709.3,710.5,711.8,713.0,714.3,715.5,716.8,717.4,718.6,719.9,721.1,722.4,723.6,724.8,726.1,727.3,728.6,729.8,731.1,732.3,733.5,734.8,736.0,737.3,738.5,739.8,741.0,742.3,743.5,744.7,746.0,747.2,749.7,751.0,752.2,753.4,754.5,755.8,757.0,758.3,759.5,760.8,762.0,763.3,763.9,764.5,765.7,767.0,768.2,768.9,770.1,771.3,772.6,773.8,775.1,776.3,777.6,778.8,780.0,781.3,783.2,784.4,785.4,786.3,787.5,788.7,790.0,791.2,792.5,793.7,795.0,796.2,797.5,800.0,801.2,802.4,803.7,804.9,806.2,807.4,808.6,809.9,812.4,813.6,814.9,816.1,817.4,818.6,819.8,821.1,822.3,824.8,826.1,827.3,828.5,829.8,831.0,832.3,833.5,834.8,836.0,837.3,838.5,839.7,841.0,842.2,843.5,844.7,846.0,847.2,848.5,849.3,850.1,850.9,851.8,852.8,853.8,854.7,855.5,856.3,858.8,860.0,861.2,862.5,863.7,865.0,865.6,866.2,867.2,868.1,869.0,869.9,870.5,871.4,873.6,874.8,876.1,877.3,878.6,879.8,881.0,882.3,883.5,884.7,886.0,887.2,888.5,889.7,890.9,892.2,893.4,894.6,895.9,897.1,898.4,899.3,900.2,901.4,902.7,903.9,905.2,906.4,907.6,908.9,910.1,911.4,912.6,913.8,915.1,916.3,917.5,918.8,920.0,921.3,922.5,923.7,925.0,925.6,926.8,928.0,929.3,930.5,931.8,933.0,934.2,935.5,936.7,938.0,939.2,940.4,941.7,942.9,944.1,945.4,946.6,947.9,949.1,950.3,951.6,952.2,952.8,954.0,955.3,956.5,957.8,959.0,960.2,961.5,962.7,964.0,965.2,966.4,967.7,968.9,970.1,971.4,972.6,973.8,975.1,976.3,977.6,978.8,980.0,981.3,982.5,983.7,985.0,986.2,987.5,988.7,989.9,991.2,992.4,993.7,994.9,996.1,997.4,998.0,999.2]
orange_y = [0.981,0.9987,1.0076,1.0135,1.018,1.0165,1.0224,1.025,1.046,1.043,1.025,1.036,1.0655,1.055,1.070,1.061,1.031,1.0105,1.006,1.043,1.028,1.0016,1.028,1.058,1.0506,1.043,1.0165,0.995,1.0135,1.043,1.025,1.0105,1.036,1.031,1.0224,1.039,1.046,1.0536,1.058,1.0536,1.036,1.0135,1.006,0.993,0.984,0.962,1.028,1.031,1.036,1.031,1.0346,1.028,1.0343,1.037,1.039,1.039,1.036,1.033,1.031,1.025,1.0224,1.024,1.018,1.0165,1.0135,1.015,0.9987,1.0105,1.0165,1.0165,1.0046,1.0135,1.018,1.019,1.021,1.018,1.0105,1.0046,0.9987,0.997,1.000,1.0076,1.0105,1.012,1.0135,1.0165,1.021,1.0216,1.018,1.0165,1.0076,1.003,1.0076,1.0105,1.0135,1.015,1.018,1.021,1.024,1.021,1.018,1.0194,1.015,1.0194,1.021,1.0194,1.025,1.030,1.033,1.031,1.0343,1.030,1.033,1.030,1.0343,1.032,1.040,1.033,1.028,1.027,1.030,1.033,1.030,1.031,1.032,1.033,1.0343,1.031,1.031,1.030,1.027,1.025,1.031,1.043,1.0506,1.050,1.048,1.046,1.0506,1.0536,1.058,1.055,1.0417,1.036,1.028,1.0343,1.040,1.0387,1.0417,1.037,1.040,1.0447,1.0476,1.043,1.045,1.0476,1.0447,1.0476,1.043,1.0417,1.040,1.0417,1.0387,1.037,1.0365,1.036,1.036,1.0365,1.036,1.037,1.037,1.0387,1.040,1.043,1.0447,1.043,1.0476,1.043,1.0447,1.049,1.0476,1.0506,1.049,1.0506,1.046,1.045,1.0476,1.046,1.049,1.046,1.0447,1.043,1.0417,1.0447,1.043,1.0417,1.043,1.0417,1.058,1.0417,1.0387,1.036,1.028,1.024,1.033,1.0387,1.0417,1.043,1.0447,1.0476,1.048,1.0476,1.046,1.0447,1.043,1.0447,1.0417,1.0387,1.037,1.036,1.037,1.036,1.037,1.0387,1.037,1.040,1.0417,1.043,1.043,1.0417,1.0387,1.031,1.027,1.025,1.028,1.033,1.037,1.0387,1.040,1.0417,1.040,1.0425,1.043,1.0417,1.040,1.0387,1.037,1.036,1.0343,1.031,1.033,1.0343,1.036,1.034,1.052,1.049,1.0506,1.052,1.046,1.0447,1.0536,1.058,1.061,1.063,1.061,1.0603,1.0565,1.0536,1.049,1.046,1.0447,1.0447,1.0476,1.0506,1.055,1.058,1.0595,1.0536,1.043,1.036,1.031,1.033,1.0387,1.0417,1.0417,1.0387,1.031,1.025,1.021,1.0165,1.0135,1.0105,1.009,1.0105,1.0135,1.0135,1.018,1.0224,1.024,1.0246,1.025,1.025,1.0257,1.0194,1.018,1.0135,1.009,1.0105,1.015,1.0165,1.0172,1.0165,1.015,1.012,1.009,1.0076,1.006,1.003,1.0046,1.006,1.0046,1.0076,1.009,1.0135,1.024,1.0224,1.0224,1.023,1.0216,1.0224,1.0216,1.0224,1.024,1.018,1.0135,1.0105,1.012,1.0105,1.0098,1.012,1.015,1.0194,1.025,1.030,1.024,1.0224,1.024,1.0224,1.0194,1.025,1.024,1.025,1.027,1.028,1.031,1.0343,1.037,1.0387,1.0395,1.040,1.040,1.0365,1.036,1.030,1.027,1.024,1.030,1.028,1.025,1.0224,1.024,1.0224,1.0216,1.0224,1.024,1.0224,1.0216,1.021,1.0194,1.018,1.0165,1.0172,1.0165,1.018,1.021,1.0194,1.018,1.015,1.0142,1.015,1.0142,1.018,1.0194,1.018,1.0194,1.018,1.0194,1.018,1.0194,1.018,1.0172,1.0165,1.018,1.0224,1.024,1.025,1.027,1.030,1.0343,1.041,1.0343,1.030,1.046,1.0536,1.0447,1.0506,1.0387,1.030,1.0046,1.0046,1.006,1.0076,1.0046,1.0105,1.025,1.0165,1.0194,1.012,0.9987,0.991,0.984,0.993,1.0046,1.009,1.0105,1.012,1.0135,1.015,1.015,1.0165,1.0172,1.018,1.0194,1.018,1.0135,1.009,1.009,1.0105,1.012,1.0105,1.0076,1.0076,1.009,1.0135,1.021,1.015,1.012,1.009,1.0046,1.0076,1.0135,1.012,1.0135,1.009,1.012,1.0105,1.012,1.009,1.006,1.0105,1.0128,1.0105,1.012,1.009,1.012,1.009,1.0016,1.0076,1.006,1.009,1.0076,1.006,1.0076,1.009,1.0076,1.009,1.012,1.009,1.012,1.0105,1.006,1.0046,1.0068,1.006,1.0068,1.0076,1.0105,1.009,1.0194,1.015,1.009,1.012,1.0076,1.0046,1.0076,1.0105,1.012,1.0105,1.012,1.0135,1.012,1.0135,1.0142,1.015,1.0165,1.0165,1.015,1.0165,1.018,1.0165,1.018,1.0165,1.0172,1.018,1.0165,1.018,1.0172,1.0194,1.0187,1.0194,1.0194,1.0187,1.0194,1.021,1.0194,1.018,1.021,1.0172]

x_ticks = [400, 450, 500, 550, 600, 650, 700, 750, 800, 850, 900, 950]
y_ticks = [0.86, 0.88, 0.90, 0.92, 0.94, 0.96, 0.98, 1.00, 1.02, 1.04, 1.06, 1.08]

labels_top = ['So  called  "old  Kurucz"  at  ASRC', 'Kurucz  AER_Oct2000', 'Thuillier', 'Bernhard']
labels_rss = ['RSS103  1997/1998', 'RSS102  1999/2000', 'RSS105  2003/2005']
header_rss = 'Langley  at  SGP  and  Lamp  Irradiances'
header_norm = 'Normalization  by'
label_norm = 'Gueymard'
title_text = '5nm  Box  Car  Averaging'

# ---------------- figure ----------------
W, H = 1841, 920
plt.rcParams['font.family'] = ['DejaVu Sans']
fig = plt.figure(figsize=(W / 100, H / 100), dpi=100)
fig.patch.set_facecolor('white')
ax = fig.add_axes([111.5 / W, 1 - 853.5 / H, (1833.5 - 111.5) / W, (853.5 - 5.5) / H])

col = {'green': '#00e400', 'gray': '#595959', 'red': '#ff2a00', 'cyan': '#00f0ff',
       'purple': '#8a3be8', 'pink': '#ff42d8', 'orange': '#ffad00'}
lw = 1.6
ax.plot(green_x, green_y, color=col['green'], lw=lw, zorder=3)
ax.plot(gray_x, gray_y, color=col['gray'], lw=lw, zorder=3)
ax.plot(red_x, red_y, color=col['red'], lw=lw, zorder=3)
ax.plot(cyan_x, cyan_y, color=col['cyan'], lw=lw, zorder=3)
ax.plot(purple_x, purple_y, color=col['purple'], lw=lw, zorder=4)
ax.plot(pink_x, pink_y, color=col['pink'], lw=lw, zorder=4)
ax.plot(orange_x, orange_y, color=col['orange'], lw=lw, zorder=4)
ax.axhline(1.0, color='black', lw=2.4, ls=(0, (1.6, 1.6)), zorder=6)

ax.set_xlim(360, 1000)
ax.set_ylim(0.8596, 1.0866)
ax.set_xticks(x_ticks)
ax.set_yticks(y_ticks)
ax.set_yticklabels(['%.2f' % v for v in y_ticks])
ax.grid(True, color='#1a1a1a', lw=0.9, zorder=1)
ax.axhline(0.8602, color='#888888', lw=2.2, zorder=2)
ax.tick_params(axis='both', direction='out', length=14.5, width=2.4, labelsize=21, color='black')
ax.tick_params(axis='y', pad=5)
ax.tick_params(axis='x', pad=10)
for s in ['left', 'right', 'top', 'bottom']:
    ax.spines[s].set_linewidth(2.6)
    ax.spines[s].set_color('black')

def fx(x):
    return x / W

def fy(y):
    return 1 - y / H

# title box
fig.add_artist(Rectangle((fx(348), fy(61)), (620 - 348) / W, (61 - 28) / H,
                         transform=fig.transFigure, facecolor='white', edgecolor='#333333', lw=1.6, zorder=5))
fig.text(fx(353), fy(54), title_text, fontsize=14.3, color='#111111', va='baseline', ha='left', zorder=6)

# legend box
fig.add_artist(Rectangle((fx(507), fy(804)), (890 - 507) / W, (804 - 514) / H,
                         transform=fig.transFigure, facecolor='white', edgecolor='#444444', lw=1.8, zorder=5))
fs = 13.4
row_base = [537.3, 560.7, 584.0, 607.4]
series_cols = [col['green'], col['gray'], col['red'], col['cyan']]
for yb, lab, c in zip(row_base, labels_top, series_cols):
    fig.add_artist(Line2D([fx(513), fx(548)], [fy(yb - 7.5)] * 2, transform=fig.transFigure, color=c, lw=2.2, zorder=6))
    fig.text(fx(563), fy(yb), lab, fontsize=fs, color='#111111', va='baseline', ha='left', zorder=6)
fig.text(fx(511), fy(655.0), header_rss, fontsize=fs, color='#111111', va='baseline', ha='left', zorder=6)
rss_base = [678.3, 701.6, 725.0]
for yb, lab, c in zip(rss_base, labels_rss, [col['purple'], col['pink'], col['orange']]):
    fig.add_artist(Line2D([fx(513), fx(548)], [fy(yb - 7.5)] * 2, transform=fig.transFigure, color=c, lw=2.2, zorder=6))
    fig.text(fx(563), fy(yb), lab, fontsize=fs, color='#111111', va='baseline', ha='left', zorder=6)
fig.text(fx(511), fy(772.5), header_norm, fontsize=fs, color='#111111', va='baseline', ha='left', zorder=6)
fig.add_artist(Line2D([fx(513), fx(540)], [fy(789.3)] * 2, transform=fig.transFigure, color='black',
                      lw=3.0, ls=(0, (1.0, 1.6)), zorder=6))
fig.text(fx(563), fy(796.0), label_norm, fontsize=fs, color='#111111', va='baseline', ha='left', zorder=6)

fig.savefig('out.png', dpi=100, facecolor='white')
